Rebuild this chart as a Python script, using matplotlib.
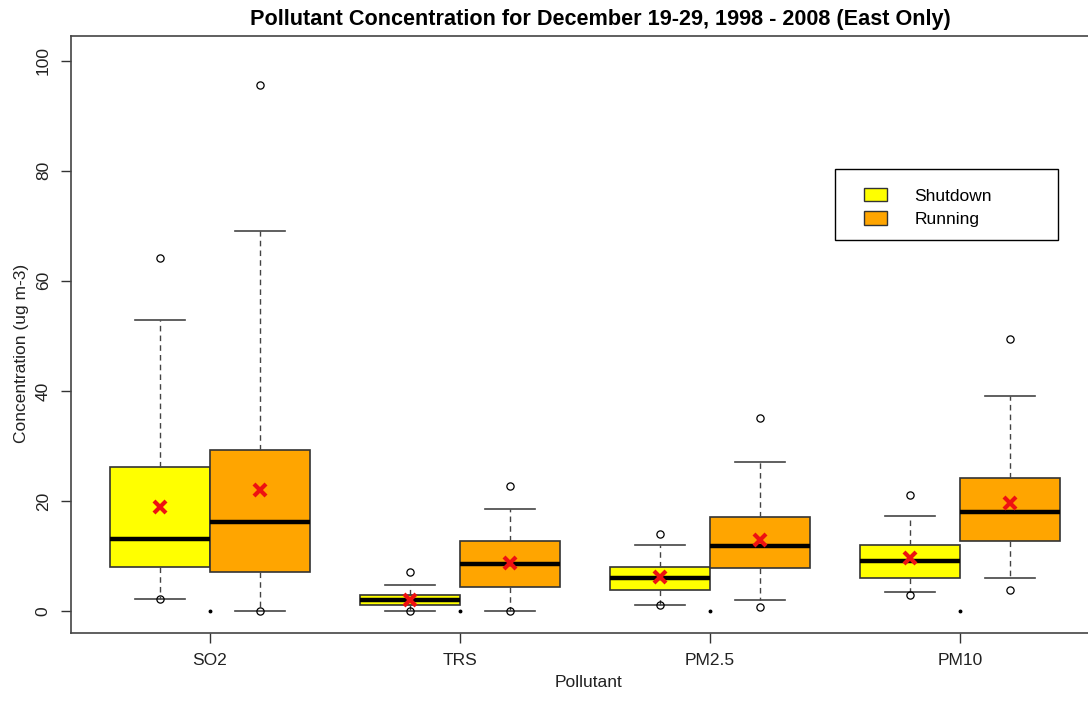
import matplotlib
matplotlib.use('Agg')
import matplotlib.pyplot as plt
from matplotlib.patches import Patch, Rectangle

plt.rcParams['font.family'] = ['Liberation Sans', 'DejaVu Sans']

# --- data (ug m-3) ---
pollutants = ['SO2', 'TRS', 'PM2.5', 'PM10']

shut_q1 = [8.05, 1.03, 3.87, 5.93]
shut_med = [13.1, 2.06, 5.93, 9.08]
shut_q3 = [26.1, 2.85, 8.05, 12.0]
shut_lo = [2.2, 0.0, 1.03, 3.5]
shut_hi = [52.9, 4.78, 12.05, 17.2]
shut_mean = [18.9, 2.0, 6.1, 9.63]
shut_fliers = [[2.2, 64.2], [0.0, 7.03], [1.03, 14.0], [2.85, 21.07]]

run_q1 = [7.03, 4.36, 7.87, 12.8]
run_med = [16.1, 8.54, 11.8, 18.0]
run_q3 = [29.25, 12.8, 17.1, 24.2]
run_lo = [0.0, 0.0, 2.0, 5.93]
run_hi = [69.0, 18.5, 27.1, 39.1]
run_mean = [22.0, 8.66, 12.9, 19.56]
run_fliers = [[0.0, 95.6], [0.0, 22.8], [0.73, 35.1], [3.75, 49.4]]

# one stray zero reading between each pair
zero_marks = [0.0, 0.0, 0.0, 0.0]


def make_stats(q1, med, q3, lo, hi, mean, fliers):
    return [dict(q1=a, med=b, q3=c, whislo=d, whishi=e, mean=f, fliers=g)
            for a, b, c, d, e, f, g in zip(q1, med, q3, lo, hi, mean, fliers)]


shut_stats = make_stats(shut_q1, shut_med, shut_q3, shut_lo, shut_hi, shut_mean, shut_fliers)
run_stats = make_stats(run_q1, run_med, run_q3, run_lo, run_hi, run_mean, run_fliers)

centers = [1.5 + 2.5 * i for i in range(len(pollutants))]
shut_pos = [c - 0.5 for c in centers]
run_pos = [c + 0.5 for c in centers]

fig = plt.figure(figsize=(10.88, 7.01), dpi=100)
ax = fig.add_axes([71 / 1088, 68 / 701, 1040 / 1088, 597 / 701])

edge = '#333333'
common = dict(
    widths=1.0, capwidths=0.5, patch_artist=True, showmeans=True, manage_ticks=False,
    medianprops=dict(color='black', linewidth=3.2, solid_capstyle='butt'),
    whiskerprops=dict(color='#444444', linewidth=1.0, linestyle=(0, (4, 3))),
    capprops=dict(color='#444444', linewidth=1.2),
    flierprops=dict(marker='o', markersize=5.2, markerfacecolor='none',
                    markeredgecolor='black', markeredgewidth=0.9),
    meanprops=dict(marker='x', markersize=8.5, markeredgewidth=3, markeredgecolor='#ee1111'),
)

for stats, pos, color in [(shut_stats, shut_pos, '#ffff00'), (run_stats, run_pos, '#ffa500')]:
    ax.bxp(stats, positions=pos,
           boxprops=dict(facecolor=color, edgecolor=edge, linewidth=1.2), **common)

ax.plot(centers, zero_marks, 'o', color='black', markersize=1.8, linestyle='none')

ax.set_xlim(1 - 0.89, 1 - 0.89 + 10.4)
ax.set_ylim(-4.0, 104.5)
ax.set_xticks(centers)
ax.set_xticklabels(pollutants)
ax.set_yticks([0, 20, 40, 60, 80, 100])
ax.tick_params(axis='both', length=7.5, width=1, color='#333333', labelsize=12.5,
               labelcolor='#222222', pad=7)
for lab in ax.get_yticklabels():
    lab.set_rotation(90)
    lab.set_va('center')

for s in ['left', 'top', 'bottom']:
    ax.spines[s].set_color('#444444')
    ax.spines[s].set_linewidth(1.2)
ax.spines['right'].set_visible(False)

ax.set_xlabel('Pollutant', fontsize=12.5, color='#222222')
ax.xaxis.set_label_coords((588 - 71) / 1040, -42 / 597)
ax.set_ylabel('Concentration (ug m-3)', fontsize=12.5, color='#222222')
ax.yaxis.set_label_coords(-42 / 1040, (633 - 353) / 597)

fig.text(600 / 1088, 1 - 20 / 701, 'Pollutant Concentration for December 19-29, 1998 - 2008 (East Only)',
         ha='center', va='center', fontsize=15.6, fontweight='bold')

# legend with a plain rectangular frame
handles = [Patch(facecolor='#ffff00', edgecolor=edge, label='Shutdown'),
           Patch(facecolor='#ffa500', edgecolor=edge, label='Running')]
fig.legend(handles=handles, loc='upper left', bbox_to_anchor=(864 / 1088, 1 - 188 / 701),
           frameon=False, fontsize=12.5, handlelength=1.3, handleheight=0.8,
           handletextpad=1.6, labelspacing=0.45, borderpad=0, borderaxespad=0)
fig.patches.append(Rectangle((835 / 1088, 1 - 240 / 701), 223 / 1088, 71 / 701,
                             transform=fig.transFigure, fill=False, edgecolor='black',
                             linewidth=1.0))

plt.savefig('out.png', dpi=100)
plt.close()
